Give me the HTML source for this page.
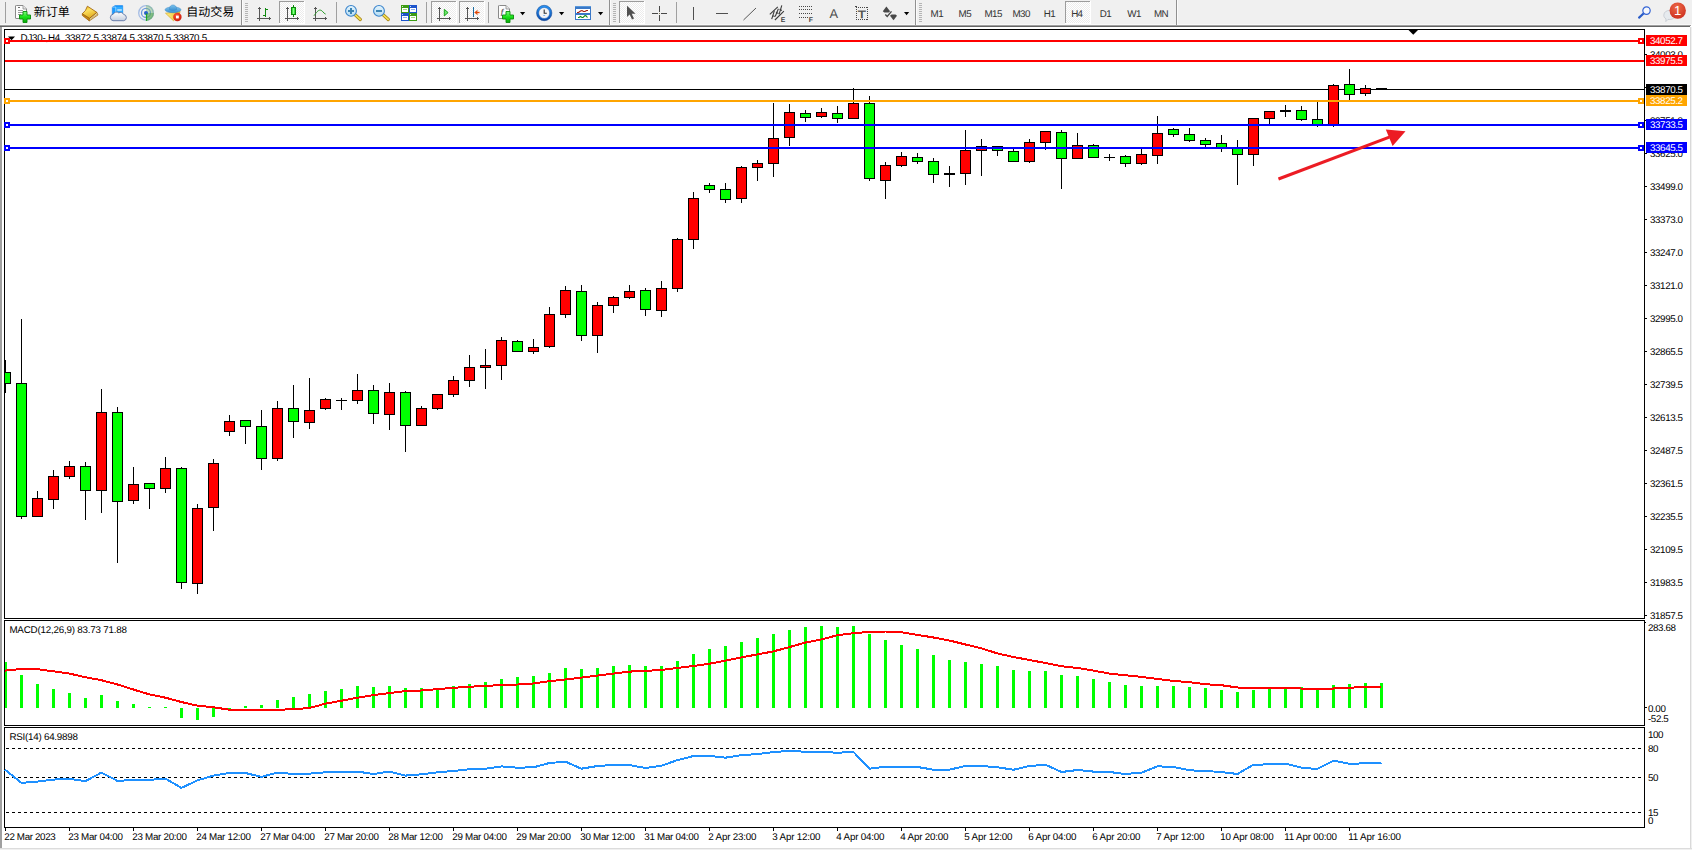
<!DOCTYPE html>
<html lang="zh"><head><meta charset="utf-8"><title>DJ30-,H4</title>
<style>html,body{margin:0;padding:0;background:#fff;overflow:hidden}body{width:1692px;height:850px}svg{display:block}text{font-family:'Liberation Sans','Noto Sans CJK SC',sans-serif;text-rendering:geometricPrecision}.c{shape-rendering:crispEdges}</style></head><body>
<svg width="1692" height="850" viewBox="0 0 1692 850">
<rect x="0" y="0" width="1692" height="850" fill="#fff"/>
<g class="c">
<rect x="0" y="0" width="1692" height="25" fill="#f0f0f0"/>
<rect x="0" y="24" width="1692" height="1" fill="#f8f8f8"/>
<rect x="0" y="25" width="1691" height="1" fill="#a0a0a0"/>
<rect x="0" y="26" width="1690" height="1" fill="#666666"/>
<rect x="0" y="27" width="2" height="822" fill="#a0a0a0"/>
<rect x="1690" y="27" width="1" height="822" fill="#d9d9d9"/>
<rect x="1691" y="27" width="1" height="823" fill="#f0f0f0"/>
<rect x="0" y="848" width="1692" height="1" fill="#dcdcdc"/>
<rect x="0" y="849" width="1692" height="1" fill="#f0f0f0"/>
</g>
<g class="c" fill="#000">
<rect x="4" y="29" width="1641" height="1" fill="#000"/>
<rect x="4" y="618" width="1641" height="1" fill="#000"/>
<rect x="4" y="29" width="1" height="590" fill="#000"/>
<rect x="1644" y="29" width="1" height="590" fill="#000"/>
<rect x="4" y="620" width="1641" height="1" fill="#000"/>
<rect x="4" y="725" width="1641" height="1" fill="#000"/>
<rect x="4" y="620" width="1" height="106" fill="#000"/>
<rect x="1644" y="620" width="1" height="106" fill="#000"/>
<rect x="4" y="727" width="1641" height="1" fill="#000"/>
<rect x="4" y="827" width="1641" height="1" fill="#000"/>
<rect x="4" y="727" width="1" height="101" fill="#000"/>
<rect x="1644" y="727" width="1" height="101" fill="#000"/>
</g>
<path d="M8 36.5h7l-3.5 3.8z" fill="#000"/>
<text x="20.6" y="40.8" font-size="9.8" letter-spacing="-0.25" fill="#000" text-anchor="start">DJ30-,H4&#160; 33872.5 33874.5 33870.5 33870.5</text>
<path d="M1408.5 30h9.5l-4.75 4.8z" fill="#000"/>
<g class="c">
<rect x="5" y="89" width="1639" height="1" fill="#000"/>
<rect x="5" y="360" width="1" height="33" fill="#000"/>
<rect x="5" y="372" width="6" height="12" fill="#000"/>
<rect x="5" y="373" width="5" height="10" fill="#00ff00"/>
<rect x="21" y="319" width="1" height="200" fill="#000"/>
<rect x="16" y="383" width="11" height="134" fill="#000"/>
<rect x="17" y="384" width="9" height="132" fill="#00ff00"/>
<rect x="37" y="491" width="1" height="26" fill="#000"/>
<rect x="32" y="498" width="11" height="19" fill="#000"/>
<rect x="33" y="499" width="9" height="17" fill="#ff0000"/>
<rect x="53" y="470" width="1" height="39" fill="#000"/>
<rect x="48" y="476" width="11" height="24" fill="#000"/>
<rect x="49" y="477" width="9" height="22" fill="#ff0000"/>
<rect x="69" y="461" width="1" height="18" fill="#000"/>
<rect x="64" y="466" width="11" height="11" fill="#000"/>
<rect x="65" y="467" width="9" height="9" fill="#ff0000"/>
<rect x="85" y="462" width="1" height="58" fill="#000"/>
<rect x="80" y="466" width="11" height="25" fill="#000"/>
<rect x="81" y="467" width="9" height="23" fill="#00ff00"/>
<rect x="101" y="389" width="1" height="124" fill="#000"/>
<rect x="96" y="412" width="11" height="79" fill="#000"/>
<rect x="97" y="413" width="9" height="77" fill="#ff0000"/>
<rect x="117" y="407" width="1" height="156" fill="#000"/>
<rect x="112" y="412" width="11" height="90" fill="#000"/>
<rect x="113" y="413" width="9" height="88" fill="#00ff00"/>
<rect x="133" y="467" width="1" height="37" fill="#000"/>
<rect x="128" y="484" width="11" height="17" fill="#000"/>
<rect x="129" y="485" width="9" height="15" fill="#ff0000"/>
<rect x="149" y="483" width="1" height="26" fill="#000"/>
<rect x="144" y="483" width="11" height="6" fill="#000"/>
<rect x="145" y="484" width="9" height="4" fill="#00ff00"/>
<rect x="165" y="457" width="1" height="36" fill="#000"/>
<rect x="160" y="468" width="11" height="21" fill="#000"/>
<rect x="161" y="469" width="9" height="19" fill="#ff0000"/>
<rect x="181" y="467" width="1" height="122" fill="#000"/>
<rect x="176" y="468" width="11" height="115" fill="#000"/>
<rect x="177" y="469" width="9" height="113" fill="#00ff00"/>
<rect x="197" y="504" width="1" height="90" fill="#000"/>
<rect x="192" y="508" width="11" height="76" fill="#000"/>
<rect x="193" y="509" width="9" height="74" fill="#ff0000"/>
<rect x="213" y="459" width="1" height="72" fill="#000"/>
<rect x="208" y="463" width="11" height="45" fill="#000"/>
<rect x="209" y="464" width="9" height="43" fill="#ff0000"/>
<rect x="229" y="415" width="1" height="21" fill="#000"/>
<rect x="224" y="421" width="11" height="11" fill="#000"/>
<rect x="225" y="422" width="9" height="9" fill="#ff0000"/>
<rect x="245" y="420" width="1" height="24" fill="#000"/>
<rect x="240" y="420" width="11" height="7" fill="#000"/>
<rect x="241" y="421" width="9" height="5" fill="#00ff00"/>
<rect x="261" y="410" width="1" height="60" fill="#000"/>
<rect x="256" y="426" width="11" height="33" fill="#000"/>
<rect x="257" y="427" width="9" height="31" fill="#00ff00"/>
<rect x="277" y="401" width="1" height="60" fill="#000"/>
<rect x="272" y="408" width="11" height="51" fill="#000"/>
<rect x="273" y="409" width="9" height="49" fill="#ff0000"/>
<rect x="293" y="385" width="1" height="53" fill="#000"/>
<rect x="288" y="408" width="11" height="14" fill="#000"/>
<rect x="289" y="409" width="9" height="12" fill="#00ff00"/>
<rect x="309" y="378" width="1" height="51" fill="#000"/>
<rect x="304" y="410" width="11" height="13" fill="#000"/>
<rect x="305" y="411" width="9" height="11" fill="#ff0000"/>
<rect x="325" y="398" width="1" height="12" fill="#000"/>
<rect x="320" y="399" width="11" height="10" fill="#000"/>
<rect x="321" y="400" width="9" height="8" fill="#ff0000"/>
<rect x="341" y="398" width="1" height="12" fill="#000"/>
<rect x="336" y="400" width="11" height="1" fill="#000"/>
<rect x="357" y="374" width="1" height="30" fill="#000"/>
<rect x="352" y="390" width="11" height="11" fill="#000"/>
<rect x="353" y="391" width="9" height="9" fill="#ff0000"/>
<rect x="373" y="385" width="1" height="39" fill="#000"/>
<rect x="368" y="390" width="11" height="24" fill="#000"/>
<rect x="369" y="391" width="9" height="22" fill="#00ff00"/>
<rect x="389" y="383" width="1" height="47" fill="#000"/>
<rect x="384" y="392" width="11" height="23" fill="#000"/>
<rect x="385" y="393" width="9" height="21" fill="#ff0000"/>
<rect x="405" y="391" width="1" height="61" fill="#000"/>
<rect x="400" y="392" width="11" height="34" fill="#000"/>
<rect x="401" y="393" width="9" height="32" fill="#00ff00"/>
<rect x="421" y="406" width="1" height="20" fill="#000"/>
<rect x="416" y="408" width="11" height="18" fill="#000"/>
<rect x="417" y="409" width="9" height="16" fill="#ff0000"/>
<rect x="437" y="394" width="1" height="16" fill="#000"/>
<rect x="432" y="394" width="11" height="15" fill="#000"/>
<rect x="433" y="395" width="9" height="13" fill="#ff0000"/>
<rect x="453" y="376" width="1" height="21" fill="#000"/>
<rect x="448" y="380" width="11" height="15" fill="#000"/>
<rect x="449" y="381" width="9" height="13" fill="#ff0000"/>
<rect x="469" y="355" width="1" height="32" fill="#000"/>
<rect x="464" y="367" width="11" height="14" fill="#000"/>
<rect x="465" y="368" width="9" height="12" fill="#ff0000"/>
<rect x="485" y="349" width="1" height="40" fill="#000"/>
<rect x="480" y="365" width="11" height="3" fill="#000"/>
<rect x="481" y="366" width="9" height="1" fill="#ff0000"/>
<rect x="501" y="337" width="1" height="43" fill="#000"/>
<rect x="496" y="340" width="11" height="26" fill="#000"/>
<rect x="497" y="341" width="9" height="24" fill="#ff0000"/>
<rect x="517" y="340" width="1" height="12" fill="#000"/>
<rect x="512" y="341" width="11" height="11" fill="#000"/>
<rect x="513" y="342" width="9" height="9" fill="#00ff00"/>
<rect x="533" y="339" width="1" height="15" fill="#000"/>
<rect x="528" y="347" width="11" height="5" fill="#000"/>
<rect x="529" y="348" width="9" height="3" fill="#ff0000"/>
<rect x="549" y="307" width="1" height="41" fill="#000"/>
<rect x="544" y="314" width="11" height="33" fill="#000"/>
<rect x="545" y="315" width="9" height="31" fill="#ff0000"/>
<rect x="565" y="286" width="1" height="32" fill="#000"/>
<rect x="560" y="290" width="11" height="25" fill="#000"/>
<rect x="561" y="291" width="9" height="23" fill="#ff0000"/>
<rect x="581" y="285" width="1" height="56" fill="#000"/>
<rect x="576" y="291" width="11" height="45" fill="#000"/>
<rect x="577" y="292" width="9" height="43" fill="#00ff00"/>
<rect x="597" y="302" width="1" height="51" fill="#000"/>
<rect x="592" y="305" width="11" height="31" fill="#000"/>
<rect x="593" y="306" width="9" height="29" fill="#ff0000"/>
<rect x="613" y="296" width="1" height="17" fill="#000"/>
<rect x="608" y="297" width="11" height="9" fill="#000"/>
<rect x="609" y="298" width="9" height="7" fill="#ff0000"/>
<rect x="629" y="285" width="1" height="14" fill="#000"/>
<rect x="624" y="291" width="11" height="7" fill="#000"/>
<rect x="625" y="292" width="9" height="5" fill="#ff0000"/>
<rect x="645" y="288" width="1" height="28" fill="#000"/>
<rect x="640" y="290" width="11" height="20" fill="#000"/>
<rect x="641" y="291" width="9" height="18" fill="#00ff00"/>
<rect x="661" y="281" width="1" height="36" fill="#000"/>
<rect x="656" y="288" width="11" height="23" fill="#000"/>
<rect x="657" y="289" width="9" height="21" fill="#ff0000"/>
<rect x="677" y="238" width="1" height="54" fill="#000"/>
<rect x="672" y="239" width="11" height="50" fill="#000"/>
<rect x="673" y="240" width="9" height="48" fill="#ff0000"/>
<rect x="693" y="192" width="1" height="57" fill="#000"/>
<rect x="688" y="198" width="11" height="42" fill="#000"/>
<rect x="689" y="199" width="9" height="40" fill="#ff0000"/>
<rect x="709" y="183" width="1" height="10" fill="#000"/>
<rect x="704" y="185" width="11" height="5" fill="#000"/>
<rect x="705" y="186" width="9" height="3" fill="#00ff00"/>
<rect x="725" y="183" width="1" height="20" fill="#000"/>
<rect x="720" y="189" width="11" height="11" fill="#000"/>
<rect x="721" y="190" width="9" height="9" fill="#00ff00"/>
<rect x="741" y="166" width="1" height="37" fill="#000"/>
<rect x="736" y="167" width="11" height="32" fill="#000"/>
<rect x="737" y="168" width="9" height="30" fill="#ff0000"/>
<rect x="757" y="160" width="1" height="21" fill="#000"/>
<rect x="752" y="163" width="11" height="5" fill="#000"/>
<rect x="753" y="164" width="9" height="3" fill="#ff0000"/>
<rect x="773" y="103" width="1" height="74" fill="#000"/>
<rect x="768" y="138" width="11" height="26" fill="#000"/>
<rect x="769" y="139" width="9" height="24" fill="#ff0000"/>
<rect x="789" y="104" width="1" height="42" fill="#000"/>
<rect x="784" y="112" width="11" height="26" fill="#000"/>
<rect x="785" y="113" width="9" height="24" fill="#ff0000"/>
<rect x="805" y="110" width="1" height="12" fill="#000"/>
<rect x="800" y="113" width="11" height="5" fill="#000"/>
<rect x="801" y="114" width="9" height="3" fill="#00ff00"/>
<rect x="821" y="108" width="1" height="10" fill="#000"/>
<rect x="816" y="112" width="11" height="5" fill="#000"/>
<rect x="817" y="113" width="9" height="3" fill="#ff0000"/>
<rect x="837" y="106" width="1" height="17" fill="#000"/>
<rect x="832" y="113" width="11" height="6" fill="#000"/>
<rect x="833" y="114" width="9" height="4" fill="#00ff00"/>
<rect x="853" y="88" width="1" height="31" fill="#000"/>
<rect x="848" y="103" width="11" height="16" fill="#000"/>
<rect x="849" y="104" width="9" height="14" fill="#ff0000"/>
<rect x="869" y="96" width="1" height="85" fill="#000"/>
<rect x="864" y="103" width="11" height="76" fill="#000"/>
<rect x="865" y="104" width="9" height="74" fill="#00ff00"/>
<rect x="885" y="162" width="1" height="37" fill="#000"/>
<rect x="880" y="165" width="11" height="16" fill="#000"/>
<rect x="881" y="166" width="9" height="14" fill="#ff0000"/>
<rect x="901" y="152" width="1" height="15" fill="#000"/>
<rect x="896" y="156" width="11" height="10" fill="#000"/>
<rect x="897" y="157" width="9" height="8" fill="#ff0000"/>
<rect x="917" y="153" width="1" height="11" fill="#000"/>
<rect x="912" y="157" width="11" height="5" fill="#000"/>
<rect x="913" y="158" width="9" height="3" fill="#00ff00"/>
<rect x="933" y="158" width="1" height="25" fill="#000"/>
<rect x="928" y="161" width="11" height="14" fill="#000"/>
<rect x="929" y="162" width="9" height="12" fill="#00ff00"/>
<rect x="949" y="166" width="1" height="21" fill="#000"/>
<rect x="944" y="173" width="11" height="2" fill="#000"/>
<rect x="965" y="130" width="1" height="55" fill="#000"/>
<rect x="960" y="150" width="11" height="24" fill="#000"/>
<rect x="961" y="151" width="9" height="22" fill="#ff0000"/>
<rect x="981" y="139" width="1" height="37" fill="#000"/>
<rect x="976" y="146" width="11" height="5" fill="#000"/>
<rect x="977" y="147" width="9" height="3" fill="#ff0000"/>
<rect x="997" y="146" width="1" height="10" fill="#000"/>
<rect x="992" y="146" width="11" height="5" fill="#000"/>
<rect x="993" y="147" width="9" height="3" fill="#00ff00"/>
<rect x="1013" y="149" width="1" height="13" fill="#000"/>
<rect x="1008" y="151" width="11" height="11" fill="#000"/>
<rect x="1009" y="152" width="9" height="9" fill="#00ff00"/>
<rect x="1029" y="139" width="1" height="24" fill="#000"/>
<rect x="1024" y="142" width="11" height="20" fill="#000"/>
<rect x="1025" y="143" width="9" height="18" fill="#ff0000"/>
<rect x="1045" y="131" width="1" height="19" fill="#000"/>
<rect x="1040" y="131" width="11" height="12" fill="#000"/>
<rect x="1041" y="132" width="9" height="10" fill="#ff0000"/>
<rect x="1061" y="130" width="1" height="59" fill="#000"/>
<rect x="1056" y="132" width="11" height="27" fill="#000"/>
<rect x="1057" y="133" width="9" height="25" fill="#00ff00"/>
<rect x="1077" y="133" width="1" height="26" fill="#000"/>
<rect x="1072" y="145" width="11" height="14" fill="#000"/>
<rect x="1073" y="146" width="9" height="12" fill="#ff0000"/>
<rect x="1093" y="144" width="1" height="14" fill="#000"/>
<rect x="1088" y="145" width="11" height="13" fill="#000"/>
<rect x="1089" y="146" width="9" height="11" fill="#00ff00"/>
<rect x="1109" y="154" width="1" height="7" fill="#000"/>
<rect x="1104" y="157" width="11" height="1" fill="#000"/>
<rect x="1125" y="155" width="1" height="12" fill="#000"/>
<rect x="1120" y="156" width="11" height="8" fill="#000"/>
<rect x="1121" y="157" width="9" height="6" fill="#00ff00"/>
<rect x="1141" y="149" width="1" height="16" fill="#000"/>
<rect x="1136" y="154" width="11" height="10" fill="#000"/>
<rect x="1137" y="155" width="9" height="8" fill="#ff0000"/>
<rect x="1157" y="116" width="1" height="48" fill="#000"/>
<rect x="1152" y="133" width="11" height="23" fill="#000"/>
<rect x="1153" y="134" width="9" height="21" fill="#ff0000"/>
<rect x="1173" y="128" width="1" height="9" fill="#000"/>
<rect x="1168" y="129" width="11" height="6" fill="#000"/>
<rect x="1169" y="130" width="9" height="4" fill="#00ff00"/>
<rect x="1189" y="128" width="1" height="14" fill="#000"/>
<rect x="1184" y="134" width="11" height="7" fill="#000"/>
<rect x="1185" y="135" width="9" height="5" fill="#00ff00"/>
<rect x="1205" y="138" width="1" height="9" fill="#000"/>
<rect x="1200" y="140" width="11" height="5" fill="#000"/>
<rect x="1201" y="141" width="9" height="3" fill="#00ff00"/>
<rect x="1221" y="135" width="1" height="17" fill="#000"/>
<rect x="1216" y="143" width="11" height="5" fill="#000"/>
<rect x="1217" y="144" width="9" height="3" fill="#00ff00"/>
<rect x="1237" y="140" width="1" height="45" fill="#000"/>
<rect x="1232" y="148" width="11" height="7" fill="#000"/>
<rect x="1233" y="149" width="9" height="5" fill="#00ff00"/>
<rect x="1253" y="118" width="1" height="48" fill="#000"/>
<rect x="1248" y="118" width="11" height="37" fill="#000"/>
<rect x="1249" y="119" width="9" height="35" fill="#ff0000"/>
<rect x="1269" y="111" width="1" height="13" fill="#000"/>
<rect x="1264" y="111" width="11" height="8" fill="#000"/>
<rect x="1265" y="112" width="9" height="6" fill="#ff0000"/>
<rect x="1285" y="105" width="1" height="12" fill="#000"/>
<rect x="1280" y="110" width="11" height="2" fill="#000"/>
<rect x="1301" y="106" width="1" height="15" fill="#000"/>
<rect x="1296" y="110" width="11" height="10" fill="#000"/>
<rect x="1297" y="111" width="9" height="8" fill="#00ff00"/>
<rect x="1317" y="102" width="1" height="25" fill="#000"/>
<rect x="1312" y="119" width="11" height="6" fill="#000"/>
<rect x="1313" y="120" width="9" height="4" fill="#00ff00"/>
<rect x="1333" y="84" width="1" height="43" fill="#000"/>
<rect x="1328" y="85" width="11" height="40" fill="#000"/>
<rect x="1329" y="86" width="9" height="38" fill="#ff0000"/>
<rect x="1349" y="69" width="1" height="31" fill="#000"/>
<rect x="1344" y="84" width="11" height="11" fill="#000"/>
<rect x="1345" y="85" width="9" height="9" fill="#00ff00"/>
<rect x="1365" y="85" width="1" height="11" fill="#000"/>
<rect x="1360" y="88" width="11" height="6" fill="#000"/>
<rect x="1361" y="89" width="9" height="4" fill="#ff0000"/>
<rect x="1376" y="88" width="11" height="1" fill="#000"/>
</g>
<g class="c">
<rect x="5" y="40" width="1639" height="2" fill="#ff0000"/>
<rect x="4" y="38" width="6" height="6" fill="#ff0000"/>
<rect x="6" y="40" width="2" height="2" fill="#fff"/>
<rect x="1638" y="38" width="6" height="6" fill="#ff0000"/>
<rect x="1640" y="40" width="2" height="2" fill="#fff"/>
<rect x="5" y="60" width="1639" height="2" fill="#ff0000"/>
<rect x="5" y="100" width="1639" height="2" fill="#ffa500"/>
<rect x="4" y="98" width="6" height="6" fill="#ffa500"/>
<rect x="6" y="100" width="2" height="2" fill="#fff"/>
<rect x="1638" y="98" width="6" height="6" fill="#ffa500"/>
<rect x="1640" y="100" width="2" height="2" fill="#fff"/>
<rect x="5" y="124" width="1639" height="2" fill="#0000ff"/>
<rect x="4" y="122" width="6" height="6" fill="#0000ff"/>
<rect x="6" y="124" width="2" height="2" fill="#fff"/>
<rect x="1638" y="122" width="6" height="6" fill="#0000ff"/>
<rect x="1640" y="124" width="2" height="2" fill="#fff"/>
<rect x="5" y="147" width="1639" height="2" fill="#0000ff"/>
<rect x="4" y="145" width="6" height="6" fill="#0000ff"/>
<rect x="6" y="147" width="2" height="2" fill="#fff"/>
<rect x="1638" y="145" width="6" height="6" fill="#0000ff"/>
<rect x="1640" y="147" width="2" height="2" fill="#fff"/>
</g>
<g fill="#ec1c24" stroke="none">
<path d="M1277.9 177.6 L1388.8 135.7 L1389.9 138.5 L1279.0 180.4 Z"/>
<path d="M1405.5 131.3 L1385.8 129.4 L1392.6 146.0 Z"/>
</g>
<g class="c">
<rect x="1645" y="615" width="2" height="1" fill="#000"/>
<rect x="1645" y="582" width="2" height="1" fill="#000"/>
<rect x="1645" y="549" width="2" height="1" fill="#000"/>
<rect x="1645" y="516" width="2" height="1" fill="#000"/>
<rect x="1645" y="483" width="2" height="1" fill="#000"/>
<rect x="1645" y="450" width="2" height="1" fill="#000"/>
<rect x="1645" y="417" width="2" height="1" fill="#000"/>
<rect x="1645" y="384" width="2" height="1" fill="#000"/>
<rect x="1645" y="351" width="2" height="1" fill="#000"/>
<rect x="1645" y="318" width="2" height="1" fill="#000"/>
<rect x="1645" y="285" width="2" height="1" fill="#000"/>
<rect x="1645" y="252" width="2" height="1" fill="#000"/>
<rect x="1645" y="219" width="2" height="1" fill="#000"/>
<rect x="1645" y="186" width="2" height="1" fill="#000"/>
<rect x="1645" y="153" width="2" height="1" fill="#000"/>
<rect x="1645" y="120" width="2" height="1" fill="#000"/>
<rect x="1645" y="87" width="2" height="1" fill="#000"/>
<rect x="1645" y="54" width="2" height="1" fill="#000"/>
</g>
<text x="1650" y="619" font-size="9.8" letter-spacing="-0.4" fill="#000" text-anchor="start">31857.5</text>
<text x="1650" y="586" font-size="9.8" letter-spacing="-0.4" fill="#000" text-anchor="start">31983.5</text>
<text x="1650" y="553" font-size="9.8" letter-spacing="-0.4" fill="#000" text-anchor="start">32109.5</text>
<text x="1650" y="520" font-size="9.8" letter-spacing="-0.4" fill="#000" text-anchor="start">32235.5</text>
<text x="1650" y="487" font-size="9.8" letter-spacing="-0.4" fill="#000" text-anchor="start">32361.5</text>
<text x="1650" y="454" font-size="9.8" letter-spacing="-0.4" fill="#000" text-anchor="start">32487.5</text>
<text x="1650" y="421" font-size="9.8" letter-spacing="-0.4" fill="#000" text-anchor="start">32613.5</text>
<text x="1650" y="388" font-size="9.8" letter-spacing="-0.4" fill="#000" text-anchor="start">32739.5</text>
<text x="1650" y="355" font-size="9.8" letter-spacing="-0.4" fill="#000" text-anchor="start">32865.5</text>
<text x="1650" y="322" font-size="9.8" letter-spacing="-0.4" fill="#000" text-anchor="start">32995.0</text>
<text x="1650" y="289" font-size="9.8" letter-spacing="-0.4" fill="#000" text-anchor="start">33121.0</text>
<text x="1650" y="256" font-size="9.8" letter-spacing="-0.4" fill="#000" text-anchor="start">33247.0</text>
<text x="1650" y="223" font-size="9.8" letter-spacing="-0.4" fill="#000" text-anchor="start">33373.0</text>
<text x="1650" y="190" font-size="9.8" letter-spacing="-0.4" fill="#000" text-anchor="start">33499.0</text>
<text x="1650" y="157" font-size="9.8" letter-spacing="-0.4" fill="#000" text-anchor="start">33625.0</text>
<text x="1650" y="124" font-size="9.8" letter-spacing="-0.4" fill="#000" text-anchor="start">33751.0</text>
<text x="1650" y="91" font-size="9.8" letter-spacing="-0.4" fill="#000" text-anchor="start">33877.0</text>
<text x="1650" y="58" font-size="9.8" letter-spacing="-0.4" fill="#000" text-anchor="start">34003.0</text>
<rect class="c" x="1646" y="35" width="41" height="11" fill="#ff0000"/>
<text x="1650" y="44" font-size="9.8" letter-spacing="-0.4" fill="#fff" text-anchor="start">34052.7</text>
<rect class="c" x="1646" y="55" width="41" height="11" fill="#ff0000"/>
<text x="1650" y="64" font-size="9.8" letter-spacing="-0.4" fill="#fff" text-anchor="start">33975.5</text>
<rect class="c" x="1646" y="84" width="41" height="11" fill="#000000"/>
<text x="1650" y="93" font-size="9.8" letter-spacing="-0.4" fill="#fff" text-anchor="start">33870.5</text>
<rect class="c" x="1646" y="95" width="41" height="11" fill="#ffa500"/>
<text x="1650" y="104" font-size="9.8" letter-spacing="-0.4" fill="#fff" text-anchor="start">33825.2</text>
<rect class="c" x="1646" y="119" width="41" height="11" fill="#0000ff"/>
<text x="1650" y="128" font-size="9.8" letter-spacing="-0.4" fill="#fff" text-anchor="start">33733.5</text>
<rect class="c" x="1646" y="142" width="41" height="11" fill="#0000ff"/>
<text x="1650" y="151" font-size="9.8" letter-spacing="-0.4" fill="#fff" text-anchor="start">33645.5</text>
<text x="9.4" y="633" font-size="9.8" letter-spacing="-0.21" fill="#000" text-anchor="start">MACD(12,26,9) 83.73 71.88</text>
<g class="c" fill="#00ff00">
<rect x="5" y="662" width="2" height="46" fill="#00ff00"/>
<rect x="20" y="675" width="3" height="33" fill="#00ff00"/>
<rect x="36" y="684" width="3" height="24" fill="#00ff00"/>
<rect x="52" y="689" width="3" height="19" fill="#00ff00"/>
<rect x="68" y="693" width="3" height="15" fill="#00ff00"/>
<rect x="84" y="698" width="3" height="10" fill="#00ff00"/>
<rect x="100" y="695" width="3" height="13" fill="#00ff00"/>
<rect x="116" y="701" width="3" height="7" fill="#00ff00"/>
<rect x="132" y="704" width="3" height="4" fill="#00ff00"/>
<rect x="148" y="707" width="3" height="1" fill="#00ff00"/>
<rect x="164" y="707" width="3" height="1" fill="#00ff00"/>
<rect x="180" y="708" width="3" height="10" fill="#00ff00"/>
<rect x="196" y="708" width="3" height="12" fill="#00ff00"/>
<rect x="212" y="708" width="3" height="9" fill="#00ff00"/>
<rect x="228" y="708" width="3" height="2" fill="#00ff00"/>
<rect x="244" y="706" width="3" height="2" fill="#00ff00"/>
<rect x="260" y="705" width="3" height="3" fill="#00ff00"/>
<rect x="276" y="700" width="3" height="8" fill="#00ff00"/>
<rect x="292" y="697" width="3" height="11" fill="#00ff00"/>
<rect x="308" y="694" width="3" height="14" fill="#00ff00"/>
<rect x="324" y="691" width="3" height="17" fill="#00ff00"/>
<rect x="340" y="689" width="3" height="19" fill="#00ff00"/>
<rect x="356" y="686" width="3" height="22" fill="#00ff00"/>
<rect x="372" y="687" width="3" height="21" fill="#00ff00"/>
<rect x="388" y="686" width="3" height="22" fill="#00ff00"/>
<rect x="404" y="688" width="3" height="20" fill="#00ff00"/>
<rect x="420" y="688" width="3" height="20" fill="#00ff00"/>
<rect x="436" y="688" width="3" height="20" fill="#00ff00"/>
<rect x="452" y="686" width="3" height="22" fill="#00ff00"/>
<rect x="468" y="684" width="3" height="24" fill="#00ff00"/>
<rect x="484" y="682" width="3" height="26" fill="#00ff00"/>
<rect x="500" y="679" width="3" height="29" fill="#00ff00"/>
<rect x="516" y="677" width="3" height="31" fill="#00ff00"/>
<rect x="532" y="676" width="3" height="32" fill="#00ff00"/>
<rect x="548" y="673" width="3" height="35" fill="#00ff00"/>
<rect x="564" y="668" width="3" height="40" fill="#00ff00"/>
<rect x="580" y="669" width="3" height="39" fill="#00ff00"/>
<rect x="596" y="668" width="3" height="40" fill="#00ff00"/>
<rect x="612" y="666" width="3" height="42" fill="#00ff00"/>
<rect x="628" y="665" width="3" height="43" fill="#00ff00"/>
<rect x="644" y="666" width="3" height="42" fill="#00ff00"/>
<rect x="660" y="666" width="3" height="42" fill="#00ff00"/>
<rect x="676" y="661" width="3" height="47" fill="#00ff00"/>
<rect x="692" y="654" width="3" height="54" fill="#00ff00"/>
<rect x="708" y="649" width="3" height="59" fill="#00ff00"/>
<rect x="724" y="646" width="3" height="62" fill="#00ff00"/>
<rect x="740" y="642" width="3" height="66" fill="#00ff00"/>
<rect x="756" y="638" width="3" height="70" fill="#00ff00"/>
<rect x="772" y="634" width="3" height="74" fill="#00ff00"/>
<rect x="788" y="630" width="3" height="78" fill="#00ff00"/>
<rect x="804" y="627" width="3" height="81" fill="#00ff00"/>
<rect x="820" y="626" width="3" height="82" fill="#00ff00"/>
<rect x="836" y="627" width="3" height="81" fill="#00ff00"/>
<rect x="852" y="626" width="3" height="82" fill="#00ff00"/>
<rect x="868" y="634" width="3" height="74" fill="#00ff00"/>
<rect x="884" y="640" width="3" height="68" fill="#00ff00"/>
<rect x="900" y="645" width="3" height="63" fill="#00ff00"/>
<rect x="916" y="649" width="3" height="59" fill="#00ff00"/>
<rect x="932" y="655" width="3" height="53" fill="#00ff00"/>
<rect x="948" y="660" width="3" height="48" fill="#00ff00"/>
<rect x="964" y="662" width="3" height="46" fill="#00ff00"/>
<rect x="980" y="664" width="3" height="44" fill="#00ff00"/>
<rect x="996" y="666" width="3" height="42" fill="#00ff00"/>
<rect x="1012" y="670" width="3" height="38" fill="#00ff00"/>
<rect x="1028" y="671" width="3" height="37" fill="#00ff00"/>
<rect x="1044" y="671" width="3" height="37" fill="#00ff00"/>
<rect x="1060" y="675" width="3" height="33" fill="#00ff00"/>
<rect x="1076" y="676" width="3" height="32" fill="#00ff00"/>
<rect x="1092" y="679" width="3" height="29" fill="#00ff00"/>
<rect x="1108" y="682" width="3" height="26" fill="#00ff00"/>
<rect x="1124" y="685" width="3" height="23" fill="#00ff00"/>
<rect x="1140" y="686" width="3" height="22" fill="#00ff00"/>
<rect x="1156" y="686" width="3" height="22" fill="#00ff00"/>
<rect x="1172" y="686" width="3" height="22" fill="#00ff00"/>
<rect x="1188" y="687" width="3" height="21" fill="#00ff00"/>
<rect x="1204" y="688" width="3" height="20" fill="#00ff00"/>
<rect x="1220" y="690" width="3" height="18" fill="#00ff00"/>
<rect x="1236" y="692" width="3" height="16" fill="#00ff00"/>
<rect x="1252" y="690" width="3" height="18" fill="#00ff00"/>
<rect x="1268" y="688" width="3" height="20" fill="#00ff00"/>
<rect x="1284" y="688" width="3" height="20" fill="#00ff00"/>
<rect x="1300" y="687" width="3" height="21" fill="#00ff00"/>
<rect x="1316" y="689" width="3" height="19" fill="#00ff00"/>
<rect x="1332" y="685" width="3" height="23" fill="#00ff00"/>
<rect x="1348" y="684" width="3" height="24" fill="#00ff00"/>
<rect x="1364" y="683" width="3" height="25" fill="#00ff00"/>
<rect x="1380" y="683" width="3" height="25" fill="#00ff00"/>
</g>
<polyline points="5,670.6 21.5,669 33,668.6 53.3,671.3 69.5,673.6 85.4,677.2 101.3,680.2 117.5,684.5 133.4,689.5 149.3,694.4 165.5,697.7 181.4,702 197.6,705.7 213.5,707.3 229.4,709.7 245.3,709.7 261.5,709.7 277.4,709.7 293.6,709.3 309.5,708 325.3,703.7 341.6,700.7 357.5,697.7 373.3,695.1 389.6,693.1 405.4,691.1 421.3,690.5 437.5,689.1 453.4,687.8 469.3,686.8 485.5,685.8 501.4,685.2 517.6,684.5 533.5,683.5 549.4,681.2 565.5,679.5 581.4,677.6 597.6,675.6 613.5,673.6 629.4,671.6 645.2,670.9 661.5,669.9 677.4,668 693.2,666 709.5,663.7 725.3,660.7 741.6,657.4 757.4,654.4 773.3,651.4 789.5,647.1 805.4,642.5 821.3,639.5 837.5,635.2 853.4,633.2 869.3,631.9 885.5,631.5 901.4,632.2 917.6,634.9 933.5,637.5 949.4,640.5 965.6,644.5 981.5,648.4 997.4,653.4 1013.6,657 1029.5,660 1045.4,663 1061.6,666.3 1077.5,668 1093.5,670.6 1109.5,673.6 1125.3,675.2 1141.6,676.9 1157.4,678.9 1173.3,680.9 1189.6,682.2 1205.4,684.2 1221.3,685.2 1237.5,687.5 1253.4,687.5 1269.4,687.5 1285.5,687.5 1301.4,688.5 1317.4,688.5 1333.5,688.5 1349.4,687.8 1365.3,686.8 1381.5,686.5" fill="none" stroke="#ff0000" stroke-width="2" stroke-linejoin="round" shape-rendering="crispEdges"/>
<g class="c">
<rect x="1645" y="622" width="1" height="1" fill="#000"/>
<rect x="1645" y="707" width="2" height="1" fill="#000"/>
</g>
<text x="1648" y="631" font-size="9.8" letter-spacing="-0.4" fill="#000" text-anchor="start">283.68</text>
<text x="1648" y="712" font-size="9.8" letter-spacing="-0.4" fill="#000" text-anchor="start">0.00</text>
<text x="1648" y="722" font-size="9.8" letter-spacing="-0.4" fill="#000" text-anchor="start">-52.5</text>
<text x="9.4" y="740" font-size="9.8" letter-spacing="-0.24" fill="#000" text-anchor="start">RSI(14) 64.9898</text>
<line class="c" x1="6" y1="748.5" x2="1644" y2="748.5" stroke="#000" stroke-width="1" stroke-dasharray="3 3"/>
<line class="c" x1="6" y1="777.5" x2="1644" y2="777.5" stroke="#000" stroke-width="1" stroke-dasharray="3 3"/>
<line class="c" x1="6" y1="812.5" x2="1644" y2="812.5" stroke="#000" stroke-width="1" stroke-dasharray="3 3"/>
<polyline points="5,769.7 21.5,782.9 37.4,781.6 53.3,779.6 69.5,778.9 85.4,781.2 101.3,772.6 117.5,780.9 133.4,779.9 149.3,779.9 165.5,778.6 181.4,787.9 197.6,780.3 213.5,775.6 229.4,773 245.3,773 261.5,776.9 277.4,772.6 293.6,774 309.5,773.6 325.3,772.3 341.6,771.6 357.5,771.6 373.3,774 389.6,771.6 405.4,775.6 421.3,774.3 437.5,772.3 453.4,771 469.3,769.3 485.5,768.7 501.4,766.4 517.6,767.7 533.5,767.3 549.4,763 565.5,761.7 581.4,768.7 597.6,766 613.5,765 629.4,765 645.2,768 661.5,765.7 677.4,760.1 693.2,756.1 709.5,755.8 725.3,757.7 741.6,755.1 757.4,754.1 773.3,752.1 789.5,750.8 805.4,751.8 821.3,751.8 837.5,752.8 853.4,751.8 869.3,768.7 885.5,766.7 901.4,766.7 917.6,767 933.5,769.7 949.4,769.7 965.6,766 981.5,766 997.4,767.3 1013.6,769.7 1029.5,766 1045.4,764.7 1061.6,772 1077.5,770 1093.5,771.6 1109.5,772 1125.3,774 1141.6,772.6 1157.4,766.3 1173.3,767 1189.6,770.3 1205.4,771 1221.3,772 1237.5,774 1253.4,764.7 1269.3,764.4 1285.5,763.7 1301.4,767.7 1317.3,769 1333.5,760.7 1349.4,763.7 1365.3,763.4 1381.5,762.7" fill="none" stroke="#1e90ff" stroke-width="2" stroke-linejoin="round" shape-rendering="crispEdges"/>
<text x="1648" y="738" font-size="9.8" letter-spacing="-0.4" fill="#000" text-anchor="start">100</text>
<text x="1648" y="752" font-size="9.8" letter-spacing="-0.4" fill="#000" text-anchor="start">80</text>
<text x="1648" y="781" font-size="9.8" letter-spacing="-0.4" fill="#000" text-anchor="start">50</text>
<text x="1648" y="816" font-size="9.8" letter-spacing="-0.4" fill="#000" text-anchor="start">15</text>
<text x="1648" y="824" font-size="9.8" letter-spacing="-0.4" fill="#000" text-anchor="start">0</text>
<g class="c">
<rect x="5" y="828" width="1" height="3" fill="#000"/>
<rect x="69" y="828" width="1" height="3" fill="#000"/>
<rect x="133" y="828" width="1" height="3" fill="#000"/>
<rect x="197" y="828" width="1" height="3" fill="#000"/>
<rect x="261" y="828" width="1" height="3" fill="#000"/>
<rect x="325" y="828" width="1" height="3" fill="#000"/>
<rect x="389" y="828" width="1" height="3" fill="#000"/>
<rect x="453" y="828" width="1" height="3" fill="#000"/>
<rect x="517" y="828" width="1" height="3" fill="#000"/>
<rect x="581" y="828" width="1" height="3" fill="#000"/>
<rect x="645" y="828" width="1" height="3" fill="#000"/>
<rect x="709" y="828" width="1" height="3" fill="#000"/>
<rect x="773" y="828" width="1" height="3" fill="#000"/>
<rect x="837" y="828" width="1" height="3" fill="#000"/>
<rect x="901" y="828" width="1" height="3" fill="#000"/>
<rect x="965" y="828" width="1" height="3" fill="#000"/>
<rect x="1029" y="828" width="1" height="3" fill="#000"/>
<rect x="1093" y="828" width="1" height="3" fill="#000"/>
<rect x="1157" y="828" width="1" height="3" fill="#000"/>
<rect x="1221" y="828" width="1" height="3" fill="#000"/>
<rect x="1285" y="828" width="1" height="3" fill="#000"/>
<rect x="1349" y="828" width="1" height="3" fill="#000"/>
</g>
<text x="4.3" y="840" font-size="9.8" letter-spacing="-0.36" fill="#000" text-anchor="start">22 Mar 2023</text>
<text x="68.3" y="840" font-size="9.8" letter-spacing="-0.29" fill="#000" text-anchor="start">23 Mar 04:00</text>
<text x="132.3" y="840" font-size="9.8" letter-spacing="-0.29" fill="#000" text-anchor="start">23 Mar 20:00</text>
<text x="196.3" y="840" font-size="9.8" letter-spacing="-0.29" fill="#000" text-anchor="start">24 Mar 12:00</text>
<text x="260.3" y="840" font-size="9.8" letter-spacing="-0.29" fill="#000" text-anchor="start">27 Mar 04:00</text>
<text x="324.3" y="840" font-size="9.8" letter-spacing="-0.29" fill="#000" text-anchor="start">27 Mar 20:00</text>
<text x="388.3" y="840" font-size="9.8" letter-spacing="-0.29" fill="#000" text-anchor="start">28 Mar 12:00</text>
<text x="452.3" y="840" font-size="9.8" letter-spacing="-0.29" fill="#000" text-anchor="start">29 Mar 04:00</text>
<text x="516.3" y="840" font-size="9.8" letter-spacing="-0.29" fill="#000" text-anchor="start">29 Mar 20:00</text>
<text x="580.3" y="840" font-size="9.8" letter-spacing="-0.29" fill="#000" text-anchor="start">30 Mar 12:00</text>
<text x="644.3" y="840" font-size="9.8" letter-spacing="-0.29" fill="#000" text-anchor="start">31 Mar 04:00</text>
<text x="708.3" y="840" font-size="9.8" letter-spacing="-0.19" fill="#000" text-anchor="start">2 Apr 23:00</text>
<text x="772.3" y="840" font-size="9.8" letter-spacing="-0.19" fill="#000" text-anchor="start">3 Apr 12:00</text>
<text x="836.3" y="840" font-size="9.8" letter-spacing="-0.19" fill="#000" text-anchor="start">4 Apr 04:00</text>
<text x="900.3" y="840" font-size="9.8" letter-spacing="-0.19" fill="#000" text-anchor="start">4 Apr 20:00</text>
<text x="964.3" y="840" font-size="9.8" letter-spacing="-0.19" fill="#000" text-anchor="start">5 Apr 12:00</text>
<text x="1028.3" y="840" font-size="9.8" letter-spacing="-0.19" fill="#000" text-anchor="start">6 Apr 04:00</text>
<text x="1092.3" y="840" font-size="9.8" letter-spacing="-0.19" fill="#000" text-anchor="start">6 Apr 20:00</text>
<text x="1156.3" y="840" font-size="9.8" letter-spacing="-0.19" fill="#000" text-anchor="start">7 Apr 12:00</text>
<text x="1220.3" y="840" font-size="9.8" letter-spacing="-0.19" fill="#000" text-anchor="start">10 Apr 08:00</text>
<text x="1284.3" y="840" font-size="9.8" letter-spacing="-0.19" fill="#000" text-anchor="start">11 Apr 00:00</text>
<text x="1348.3" y="840" font-size="9.8" letter-spacing="-0.19" fill="#000" text-anchor="start">11 Apr 16:00</text>
<defs><linearGradient id="gPlus" x1="0" y1="0" x2="0" y2="1"><stop offset="0" stop-color="#7dff7d"/><stop offset="0.5" stop-color="#18e018"/><stop offset="1" stop-color="#0aa80a"/></linearGradient><linearGradient id="gBook" x1="0.2" y1="0" x2="0.6" y2="1"><stop offset="0" stop-color="#f0c020"/><stop offset="0.35" stop-color="#fce060"/><stop offset="1" stop-color="#e0a818"/></linearGradient><linearGradient id="gCloud" x1="0" y1="0" x2="0" y2="1"><stop offset="0" stop-color="#ffffff"/><stop offset="1" stop-color="#c4cede"/></linearGradient><linearGradient id="gSrv" x1="0" y1="0" x2="1" y2="0"><stop offset="0" stop-color="#1e9bff"/><stop offset="1" stop-color="#1a78e0"/></linearGradient><linearGradient id="gHat" x1="0" y1="0" x2="0" y2="1"><stop offset="0" stop-color="#7cc4ec"/><stop offset="1" stop-color="#3a8fd0"/></linearGradient><linearGradient id="gCone" x1="0" y1="0" x2="1" y2="0"><stop offset="0" stop-color="#fdf08a"/><stop offset="1" stop-color="#e8b820"/></linearGradient><radialGradient id="gStop" cx="0.4" cy="0.35" r="0.7"><stop offset="0" stop-color="#ff5a3a"/><stop offset="1" stop-color="#c81808"/></radialGradient><radialGradient id="gBadge" cx="0.45" cy="0.3" r="0.8"><stop offset="0" stop-color="#ee6a48"/><stop offset="1" stop-color="#c8281a"/></radialGradient><linearGradient id="gLens" x1="0" y1="0" x2="0" y2="1"><stop offset="0" stop-color="#e4f4fc"/><stop offset="1" stop-color="#b4dcf4"/></linearGradient><linearGradient id="gClock" x1="0" y1="0" x2="0" y2="1"><stop offset="0" stop-color="#2a98f8"/><stop offset="1" stop-color="#0a4aa8"/></linearGradient><linearGradient id="gCandle" x1="0" y1="0" x2="1" y2="0"><stop offset="0" stop-color="#16d816"/><stop offset="0.5" stop-color="#8aff8a"/><stop offset="1" stop-color="#16d816"/></linearGradient><linearGradient id="gTplH" x1="0" y1="0" x2="0" y2="1"><stop offset="0" stop-color="#6aa8e8"/><stop offset="1" stop-color="#2a68b8"/></linearGradient><pattern id="hatch" width="2" height="2" patternUnits="userSpaceOnUse"><rect width="2" height="2" fill="#ffffff"/><rect width="1" height="1" fill="#ececec"/><rect x="1" y="1" width="1" height="1" fill="#ececec"/></pattern></defs>
<rect class="c" x="5" y="2" width="1" height="21" fill="#a0a0a0"/>
<g transform="translate(0,0)"><path d="M16.500 5.500h6.500l3.500 3.500v9.500h-10.500q-.5 0-.5-.5v-12q0-.5.500-.500z" fill="#fdfdfd" stroke="#8a8a8a" stroke-width="1"/><path d="M23 5.500v3.500h3.500" fill="#e8e8e8" stroke="#8a8a8a" stroke-width="0.8"/><g class="c" fill="#9a9a9a"><rect x="18" y="7" width="2" height="1" fill="#707070"/><rect x="18" y="10" width="5" height="1"/><rect x="18" y="12" width="6" height="1"/><rect x="18" y="14" width="3" height="1"/></g><path d="M23 11.500h4v3.500h3.500v4h-3.500v3.500h-4v-3.500h-3.500v-4h3.500z" fill="url(#gPlus)" stroke="#0a8c0a" stroke-width="0.9"/></g>
<text x="33.800" y="16.300" font-size="12" fill="#000">新订单</text>
<g stroke-linejoin="round"><path d="M82.300 13.700l7.200 4.600-.2 2.600-7-5.500z" fill="#c88a14" stroke="#9a5c08" stroke-width="0.7"/><path d="M89.500 18.300l7.300-6 1.200 2.600-8.700 6z" fill="#ecdca0" stroke="#9a5c08" stroke-width="0.7"/><path d="M89.300 19.800l8.200-6" stroke="#b89040" stroke-width="0.5" fill="none"/><path d="M87.400 6.200l9.400 6.100-7.300 6-7.200-4.600q3.600-2.500 5.100-7.500z" fill="url(#gBook)" stroke="#9a5c08" stroke-width="0.8"/></g>
<g><path d="M112.300 7.200l2.800-1.600h7.600v9.400h-10.400z" fill="#1a9cff" stroke="#1a80e8" stroke-width="0.6"/><path d="M115.700 7h7v7.500h-7z" fill="#34acff"/><path d="M112.300 7.200l3.400-.2v8" fill="none" stroke="#bfe4ff" stroke-width="0.6"/><rect x="117.300" y="9.400" width="4.500" height="1.200" fill="#eef8ff"/><path d="M113 20.700a3.300 3.300 0 0 1 .200-6.500a3.600 3.600 0 0 1 5.600-1.300a3.400 3.400 0 0 1 4.800 1.500a3.200 3.200 0 0 1 .200 6.300z" fill="url(#gCloud)" stroke="#5e74a4" stroke-width="0.9"/></g>
<g fill="none"><circle cx="146" cy="12.900" r="7.300" stroke="#a4bce4" stroke-width="1.300"/><circle cx="146" cy="12.900" r="4.500" stroke="#6a96dc" stroke-width="1.300"/><path d="M146 4.900a8 8 0 0 1 0 16z" fill="#78b878" fill-opacity="0.45"/><path d="M146 12.900h8a8 8 0 0 1-8 8z" fill="#4ca44c" fill-opacity="0.5"/><circle cx="146" cy="12.900" r="2" fill="#2860cc"/><path d="M146.500 13.500v7.400" stroke="#20a820" stroke-width="1.200"/></g>
<g><path d="M165.500 13.200l14.700-1.600-1.200 3.500-5.500 5.700z" fill="url(#gCone)" stroke="#d0a010" stroke-width="0.6"/><ellipse cx="173" cy="9.800" rx="8" ry="2.900" fill="url(#gHat)" stroke="#3a88c8" stroke-width="0.5"/><path d="M169.300 9.600c-.300-6.200 7.700-6.200 7.400 0c-2 1.300-5.400 1.300-7.400 0z" fill="url(#gHat)" stroke="#3a88c8" stroke-width="0.5"/><circle cx="177.400" cy="17" r="4.200" fill="url(#gStop)"/><rect x="176" y="15.600" width="2.800" height="2.800" fill="#fff"/></g>
<text x="186.300" y="16.300" font-size="12" fill="#000">自动交易</text>
<g class="c"><rect x="241" y="0" width="1" height="25" fill="#909090"/><rect x="242" y="0" width="1" height="25" fill="#fbfbfb"/></g>
<g class="c" fill="#b4b4b4">
<rect x="245" y="3" width="3" height="1"/>
<rect x="245" y="5" width="3" height="1"/>
<rect x="245" y="7" width="3" height="1"/>
<rect x="245" y="9" width="3" height="1"/>
<rect x="245" y="11" width="3" height="1"/>
<rect x="245" y="13" width="3" height="1"/>
<rect x="245" y="15" width="3" height="1"/>
<rect x="245" y="17" width="3" height="1"/>
<rect x="245" y="19" width="3" height="1"/>
<rect x="245" y="21" width="3" height="1"/>
</g>
<g class="c" fill="#555555"><rect x="259" y="7" width="1" height="14"/><rect x="257" y="18" width="14" height="1"/><rect x="258" y="8" width="3" height="1"/><rect x="269" y="17" width="1" height="3"/></g>
<g class="c" fill="#108a10"><rect x="265" y="8" width="1" height="9"/><rect x="266" y="9" width="2" height="1"/><rect x="263" y="15" width="2" height="1"/></g>
<g class="c"><rect x="279" y="1" width="26" height="23" fill="url(#hatch)"/><rect x="279" y="1" width="25" height="1" fill="#9c9c9c"/><rect x="279" y="1" width="1" height="22" fill="#9c9c9c"/><rect x="304" y="1" width="1" height="23" fill="#ffffff"/><rect x="279" y="23" width="26" height="1" fill="#ffffff"/></g>
<g class="c" fill="#555555"><rect x="287" y="7" width="1" height="14"/><rect x="285" y="18" width="14" height="1"/><rect x="286" y="8" width="3" height="1"/><rect x="297" y="17" width="1" height="3"/></g>
<g class="c"><rect x="293" y="5" width="1" height="12" fill="#0a8a0a"/><rect x="291" y="7" width="5" height="8" fill="#0a8a0a"/><rect x="292" y="8" width="3" height="6" fill="url(#gCandle)"/></g>
<g class="c" fill="#555555"><rect x="315" y="7" width="1" height="14"/><rect x="313" y="18" width="14" height="1"/><rect x="314" y="8" width="3" height="1"/><rect x="325" y="17" width="1" height="3"/></g>
<path d="M314 15.700c2-2.600 4-5.800 6.300-5.600s3 3.200 5.300 4" fill="none" stroke="#2a9a2a" stroke-width="1"/>
<rect class="c" x="336" y="2" width="1" height="21" fill="#a0a0a0"/>
<g><path d="M354.7 14.4l5.600 5.100" stroke="#a07808" stroke-width="3.200" stroke-linecap="round"/><path d="M354.7 14.4l5.600 5.100" stroke="#f0dc50" stroke-width="1.800" stroke-linecap="round"/><circle cx="351" cy="10.900" r="5.400" fill="url(#gLens)" stroke="#3a84cc" stroke-width="1.100"/><rect class="c" x="348" y="10" width="6" height="2" fill="#3c84b4"/>
<rect class="c" x="350" y="8" width="2" height="6" fill="#3c84b4"/>
</g>
<g><path d="M382.7 14.4l5.600 5.100" stroke="#a07808" stroke-width="3.200" stroke-linecap="round"/><path d="M382.7 14.4l5.600 5.100" stroke="#f0dc50" stroke-width="1.800" stroke-linecap="round"/><circle cx="379" cy="10.900" r="5.400" fill="url(#gLens)" stroke="#3a84cc" stroke-width="1.100"/><rect class="c" x="376" y="10" width="6" height="2" fill="#3c84b4"/>
</g>
<g class="c"><rect x="401" y="5" width="8" height="8" fill="#3c9c14"/><rect x="409" y="5" width="8" height="8" fill="#1c54cc"/><rect x="401" y="13" width="8" height="8" fill="#1c54cc"/><rect x="409" y="13" width="8" height="8" fill="#3c9c14"/><rect x="402" y="8" width="6" height="4" fill="#fff"/><rect x="410" y="8" width="6" height="4" fill="#fff"/><rect x="402" y="16" width="6" height="4" fill="#fff"/><rect x="410" y="16" width="6" height="4" fill="#fff"/><rect x="403" y="9" width="4" height="1" fill="#9cd47c"/><rect x="411" y="9" width="4" height="1" fill="#8cacec"/><rect x="403" y="17" width="4" height="1" fill="#8cacec"/><rect x="411" y="17" width="4" height="1" fill="#9cd47c"/><rect x="402" y="6" width="1" height="1" fill="#d8f0c8"/><rect x="410" y="6" width="1" height="1" fill="#c8d8f8"/><rect x="402" y="14" width="1" height="1" fill="#c8d8f8"/><rect x="410" y="14" width="1" height="1" fill="#d8f0c8"/></g>
<rect class="c" x="426" y="2" width="1" height="21" fill="#a0a0a0"/>
<g class="c"><rect x="431" y="1" width="26" height="23" fill="url(#hatch)"/><rect x="431" y="1" width="25" height="1" fill="#9c9c9c"/><rect x="431" y="1" width="1" height="22" fill="#9c9c9c"/><rect x="456" y="1" width="1" height="23" fill="#ffffff"/><rect x="431" y="23" width="26" height="1" fill="#ffffff"/></g>
<g class="c" fill="#555555"><rect x="439" y="7" width="1" height="14"/><rect x="437" y="18" width="14" height="1"/><rect x="438" y="8" width="3" height="1"/><rect x="449" y="17" width="1" height="3"/></g>
<path d="M444.300 9.400l3.800 3.200-3.800 3.300z" fill="#6ae86a" stroke="#10a010" stroke-width="0.9"/>
<g class="c"><rect x="459" y="1" width="26" height="23" fill="url(#hatch)"/><rect x="459" y="1" width="25" height="1" fill="#9c9c9c"/><rect x="459" y="1" width="1" height="22" fill="#9c9c9c"/><rect x="484" y="1" width="1" height="23" fill="#ffffff"/><rect x="459" y="23" width="26" height="1" fill="#ffffff"/></g>
<g class="c" fill="#555555"><rect x="467" y="7" width="1" height="14"/><rect x="465" y="18" width="14" height="1"/><rect x="466" y="8" width="3" height="1"/><rect x="477" y="17" width="1" height="3"/></g>
<g class="c"><rect x="473" y="7" width="1" height="10" fill="#1c6ca0"/></g><path d="M474.500 12.500l3-2.200-.6 1.700h2.400v1h-2.400l.6 1.700z" fill="#e04808" stroke="#e04808" stroke-width="0.400"/>
<rect class="c" x="488" y="2" width="1" height="21" fill="#a0a0a0"/>
<g transform="translate(483,0)"><path d="M16.500 5.500h6.500l3.500 3.500v9.500h-10.500q-.5 0-.5-.5v-12q0-.5.500-.500z" fill="#fdfdfd" stroke="#8a8a8a" stroke-width="1"/><path d="M23 5.500v3.500h3.500" fill="#e8e8e8" stroke="#8a8a8a" stroke-width="0.8"/><text x="17.600" y="15.500" font-size="10" fill="#505050" font-style="italic" font-family="'Liberation Serif',serif">f</text><path d="M23 11.500h4v3.500h3.500v4h-3.500v3.500h-4v-3.500h-3.500v-4h3.500z" fill="url(#gPlus)" stroke="#0a8c0a" stroke-width="0.9"/></g>
<path d="M520 12h5.2l-2.6 3.2z" fill="#000"/>
<g><circle cx="544.200" cy="13" r="7.700" fill="url(#gClock)" stroke="#0a3c8c" stroke-width="0.500"/><circle cx="544.200" cy="13" r="5.500" fill="#f4f4f4" stroke="#1a5cb8" stroke-width="0.500"/><path d="M544.200 9.500v3.700h2.600" stroke="#303030" stroke-width="1.100" fill="none"/><path d="M543.300 15.500h1.800" stroke="#4a9af0" stroke-width="0.700"/></g>
<path d="M559 12h5.2l-2.6 3.2z" fill="#000"/>
<g class="c"><rect x="575" y="6" width="16" height="14" fill="#3a78c8"/><rect x="576" y="9" width="14" height="4" fill="#fff"/><rect x="576" y="15" width="14" height="4" fill="#fff"/><rect x="575" y="6" width="16" height="2" fill="url(#gTplH)"/></g><path d="M577 12.500h1.500l2-1.500 1.500-.500 1.500 1h1.500l1.500-1h1.500" stroke="#a82010" stroke-width="1.100" fill="none"/><path d="M578 17.500h1l1.500-1 1.500 1h1l2-2 1 .300 1.500 1.700" stroke="#108a10" stroke-width="1.100" fill="none"/>
<path d="M598 12h5.2l-2.6 3.2z" fill="#000"/>
<g class="c"><rect x="609" y="0" width="1" height="25" fill="#909090"/><rect x="610" y="0" width="1" height="25" fill="#fbfbfb"/></g>
<g class="c" fill="#b4b4b4">
<rect x="613" y="3" width="3" height="1"/>
<rect x="613" y="5" width="3" height="1"/>
<rect x="613" y="7" width="3" height="1"/>
<rect x="613" y="9" width="3" height="1"/>
<rect x="613" y="11" width="3" height="1"/>
<rect x="613" y="13" width="3" height="1"/>
<rect x="613" y="15" width="3" height="1"/>
<rect x="613" y="17" width="3" height="1"/>
<rect x="613" y="19" width="3" height="1"/>
<rect x="613" y="21" width="3" height="1"/>
</g>
<g class="c"><rect x="619" y="1" width="26" height="23" fill="url(#hatch)"/><rect x="619" y="1" width="25" height="1" fill="#9c9c9c"/><rect x="619" y="1" width="1" height="22" fill="#9c9c9c"/><rect x="644" y="1" width="1" height="23" fill="#ffffff"/><rect x="619" y="23" width="26" height="1" fill="#ffffff"/></g>
<path d="M627 5.800v11.300l2.700-2.600 2.300 5 2-.900-2.300-4.900h3.800z" fill="#505050"/>
<g class="c" fill="#484848"><rect x="659" y="6" width="1" height="6"/><rect x="659" y="15" width="1" height="6"/><rect x="652" y="13" width="6" height="1"/><rect x="661" y="13" width="6" height="1"/><rect x="659" y="13" width="1" height="1" fill="#807850"/></g>
<rect class="c" x="676" y="2" width="1" height="21" fill="#a0a0a0"/>
<g class="c" fill="#505050"><rect x="693" y="7" width="1" height="13"/><rect x="716" y="13" width="12" height="1"/></g>
<path d="M743.500 20l12.500-12" stroke="#585858" stroke-width="1"/>
<g stroke="#3c3c3c" stroke-width="1.100" fill="none"><path d="M769.800 14.400l8-7.500M774.900 20l9-8.800"/><path d="M771.700 19.100l2.700-8.500M775.200 16.500l3.200-7.700M779.100 14.400l2.700-9.100M772.300 15.300l2.300 1.200M776 12.300l2.400 1.200M779.600 9.300l2.300 1.200"/></g><text x="780.700" y="21.800" font-size="6.800" font-weight="bold" fill="#404040">E</text>
<g class="c" fill="#484848">
<rect x="799" y="6" width="1" height="1"/>
<rect x="801" y="6" width="1" height="1"/>
<rect x="803" y="6" width="1" height="1"/>
<rect x="805" y="6" width="1" height="1"/>
<rect x="807" y="6" width="1" height="1"/>
<rect x="809" y="6" width="1" height="1"/>
<rect x="811" y="6" width="1" height="1"/>
<rect x="799" y="9" width="1" height="1"/>
<rect x="801" y="9" width="1" height="1"/>
<rect x="803" y="9" width="1" height="1"/>
<rect x="805" y="9" width="1" height="1"/>
<rect x="807" y="9" width="1" height="1"/>
<rect x="809" y="9" width="1" height="1"/>
<rect x="811" y="9" width="1" height="1"/>
<rect x="799" y="13" width="1" height="1"/>
<rect x="801" y="13" width="1" height="1"/>
<rect x="803" y="13" width="1" height="1"/>
<rect x="805" y="13" width="1" height="1"/>
<rect x="807" y="13" width="1" height="1"/>
<rect x="809" y="13" width="1" height="1"/>
<rect x="811" y="13" width="1" height="1"/>
<rect x="799" y="17" width="1" height="1"/>
<rect x="801" y="17" width="1" height="1"/>
<rect x="803" y="17" width="1" height="1"/>
<rect x="805" y="17" width="1" height="1"/>
<rect x="807" y="17" width="1" height="1"/>
</g><text x="808.800" y="21.800" font-size="6.800" font-weight="bold" fill="#404040">F</text>
<text x="829.400" y="18" font-size="12.800" fill="#4c4c4c">A</text>
<g class="c" fill="#484848">
<rect x="856" y="7" width="1" height="1"/><rect x="856" y="19" width="1" height="1"/>
<rect x="858" y="7" width="1" height="1"/><rect x="858" y="19" width="1" height="1"/>
<rect x="860" y="7" width="1" height="1"/><rect x="860" y="19" width="1" height="1"/>
<rect x="862" y="7" width="1" height="1"/><rect x="862" y="19" width="1" height="1"/>
<rect x="864" y="7" width="1" height="1"/><rect x="864" y="19" width="1" height="1"/>
<rect x="866" y="7" width="1" height="1"/><rect x="866" y="19" width="1" height="1"/>
<rect x="856" y="9" width="1" height="1"/><rect x="867" y="9" width="1" height="1"/>
<rect x="856" y="11" width="1" height="1"/><rect x="867" y="11" width="1" height="1"/>
<rect x="856" y="13" width="1" height="1"/><rect x="867" y="13" width="1" height="1"/>
<rect x="856" y="15" width="1" height="1"/><rect x="867" y="15" width="1" height="1"/>
<rect x="856" y="17" width="1" height="1"/><rect x="867" y="17" width="1" height="1"/>
<rect x="856" y="19" width="1" height="1"/><rect x="867" y="19" width="1" height="1"/>
<rect x="855" y="6" width="2" height="1"/><rect x="867" y="7" width="1" height="1"/></g>
<text x="857.800" y="17.700" font-size="10.600" textLength="8.200" lengthAdjust="spacingAndGlyphs" fill="#484848" stroke="#484848" stroke-width="0.300">T</text>
<g fill="#484848"><path d="M882.800 11.200l3.600-4.600 3.700 4.600-1.500 1.300h-4.300z"/><path d="M890 15.800l1.500-1.200h4l1.500 1.200-3.500 4.400z"/><path d="M885.300 14.500l1.900 2 4.300-5.100" fill="none" stroke="#484848" stroke-width="1.400"/></g>
<path d="M904 12h5.2l-2.6 3.2z" fill="#000"/>
<g class="c"><rect x="915" y="0" width="1" height="25" fill="#909090"/><rect x="916" y="0" width="1" height="25" fill="#fbfbfb"/></g>
<g class="c" fill="#b4b4b4">
<rect x="919" y="3" width="3" height="1"/>
<rect x="919" y="5" width="3" height="1"/>
<rect x="919" y="7" width="3" height="1"/>
<rect x="919" y="9" width="3" height="1"/>
<rect x="919" y="11" width="3" height="1"/>
<rect x="919" y="13" width="3" height="1"/>
<rect x="919" y="15" width="3" height="1"/>
<rect x="919" y="17" width="3" height="1"/>
<rect x="919" y="19" width="3" height="1"/>
<rect x="919" y="21" width="3" height="1"/>
</g>
<g class="c"><rect x="1065" y="1" width="26" height="23" fill="url(#hatch)"/><rect x="1065" y="1" width="25" height="1" fill="#9c9c9c"/><rect x="1065" y="1" width="1" height="22" fill="#9c9c9c"/><rect x="1090" y="1" width="1" height="23" fill="#ffffff"/><rect x="1065" y="23" width="26" height="1" fill="#ffffff"/></g>
<text x="936.8" y="17" font-size="9.800" letter-spacing="-0.600" fill="#333" text-anchor="middle">M1</text>
<text x="964.8" y="17" font-size="9.800" letter-spacing="-0.600" fill="#333" text-anchor="middle">M5</text>
<text x="993.2" y="17" font-size="9.800" letter-spacing="-0.600" fill="#333" text-anchor="middle">M15</text>
<text x="1021.2" y="17" font-size="9.800" letter-spacing="-0.600" fill="#333" text-anchor="middle">M30</text>
<text x="1049.4" y="17" font-size="9.800" letter-spacing="-0.600" fill="#333" text-anchor="middle">H1</text>
<text x="1076.8" y="17" font-size="9.800" letter-spacing="-0.600" fill="#333" text-anchor="middle">H4</text>
<text x="1105.5" y="17" font-size="9.800" letter-spacing="-0.600" fill="#333" text-anchor="middle">D1</text>
<text x="1134" y="17" font-size="9.800" letter-spacing="-0.600" fill="#333" text-anchor="middle">W1</text>
<text x="1161.1" y="17" font-size="9.800" letter-spacing="-0.600" fill="#333" text-anchor="middle">MN</text>
<g class="c"><rect x="1176" y="0" width="1" height="25" fill="#909090"/><rect x="1177" y="0" width="1" height="25" fill="#fbfbfb"/></g>
<g><path d="M1643.800 13.300l-4.700 4.300" stroke="#2a5cc8" stroke-width="2.200" stroke-linecap="round"/><circle cx="1646.500" cy="10.600" r="3.700" fill="#f6f8fc" stroke="#3464d4" stroke-width="1.200"/></g>
<g><path d="M1663.800 15.200c0-6.400 11.400-6.400 11.400 0c0 3.600-4.200 4.600-7.200 4.200l-2.200 2.200.2-2.800c-1.400-.8-2.200-2-2.200-3.600z" fill="#e6eaee" stroke="#bcc2ca" stroke-width="0.700"/><circle cx="1677.700" cy="10.600" r="8.200" fill="url(#gBadge)"/><text x="1677.600" y="15.200" font-size="13" fill="#fff" text-anchor="middle">1</text></g>
</svg></body></html>
